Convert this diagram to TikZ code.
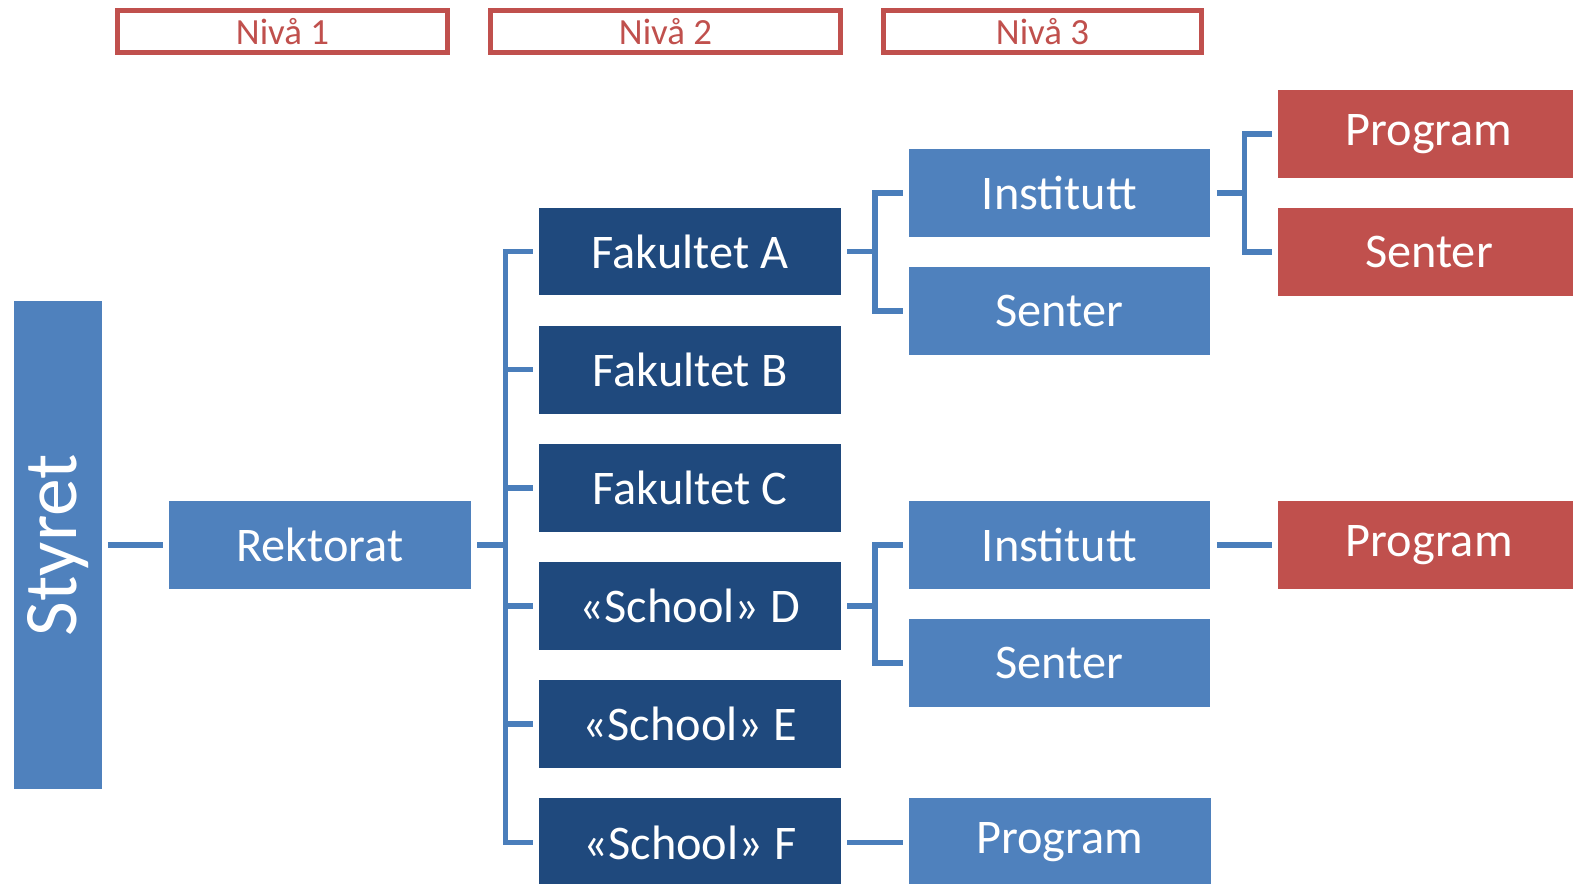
\documentclass[tikz,border=0pt]{standalone}
\usepackage{fontspec}
\setmainfont{Carlito}
\usepackage{tikz}
\usetikzlibrary{positioning, calc}
\definecolor{unitblue}{RGB}{79,129,189}
\definecolor{unitdark}{RGB}{31,73,125}
\definecolor{unitred}{RGB}{192,80,77}
\definecolor{linkblue}{RGB}{74,126,187}

\begin{document}
\begin{tikzpicture}[x=0.02cm, y=-0.02cm, node distance=0.59cm,
unit/.style={rectangle, fill=#1, text=white, inner sep=0pt,
minimum width=6.04cm, minimum height=1.76cm, align=center,
font=\fontsize{27.5}{32}\selectfont},
level/.style={rectangle, draw=unitred, line width=3pt, text=unitred,
minimum height=0.84cm, inner sep=0pt, font=\fontsize{21}{25}\selectfont},
link/.style={draw=linkblue, line width=3.2pt}
]
\useasboundingbox (0,0) rectangle (1573,884);
\clip (0,0) rectangle (1573,884);

% Levels
\node[level, minimum width=6.6cm] (niva1) at (282.5,31.5) {Nivå 1};
\node[level, minimum width=7.0cm] (niva2) at (665.5,31.5) {Nivå 2};
\node[level, minimum width=6.36cm] (niva3) at (1042.5,31.5) {Nivå 3};

% Board and rector
\node[unit=unitblue, minimum width=1.76cm, minimum height=9.76cm] (styret) at (58,545)
{\rotatebox{90}{\fontsize{43}{48}\selectfont Styret}};
\node[unit=unitblue] (rekt) at (320,545) {Rektorat};

% Faculties
\node[unit=unitdark] (fakA) at (690,251.5) {Fakultet A};
\node[unit=unitdark, below=of fakA] (fakB) {Fakultet B};
\node[unit=unitdark, below=of fakB] (fakC) {Fakultet C};
\node[unit=unitdark, below=of fakC] (fakD) {«School» D};
\node[unit=unitdark, below=of fakD] (fakE) {«School» E};
\node[unit=unitdark, below=of fakE] (fakF) {«School» F};

% Level 3
\node[unit=unitblue] (inst1) at (1059.5,193) {Institutt};
\node[unit=unitblue, below=of inst1] (sent1) {Senter};
\node[unit=unitblue] (inst2) at (1059.5,545) {Institutt};
\node[unit=unitblue, below=of inst2] (sent2) {Senter};
\node[unit=unitblue, right=1.34cm of fakF] (prog3) {Program};

% Red units
\node[unit=unitred] (progR1) at (1429,134) {Program};
\node[unit=unitred, below=of progR1] (sentR1) {Senter};
\node[unit=unitred, right=1.34cm of inst2] (progR2) {Program};

% Junctions
\coordinate (bus) at ([xshift=0.68cm]rekt.east);
\coordinate (jA) at ([xshift=0.67cm]fakA.east);
\coordinate (jD) at ([xshift=0.67cm]fakD.east);
\coordinate (jI) at ([xshift=0.67cm]inst1.east);

% Connectors
\draw[link, shorten <=0.11cm, shorten >=0.11cm] (styret) -- (rekt);
\draw[link, shorten <=0.12cm] (rekt.east) -- (bus);
\draw[link, shorten <=0.12cm, shorten >=0.12cm] (fakA.west) -| (bus) |- (fakF.west);
\foreach \n in {fakB, fakC, fakD, fakE}
  \draw[link, shorten >=0.12cm] (bus |- \n.west) -- (\n.west);

\draw[link, shorten <=0.12cm] (fakA.east) -- (jA);
\draw[link, shorten <=0.11cm, shorten >=0.11cm] (inst1.west) -| (jA) |- (sent1.west);

\draw[link, shorten <=0.12cm] (fakD.east) -- (jD);
\draw[link, shorten <=0.11cm, shorten >=0.11cm] (inst2.west) -| (jD) |- (sent2.west);

\draw[link, shorten <=0.12cm] (inst1.east) -- (jI);
\draw[link, shorten <=0.11cm, shorten >=0.11cm] (progR1.west) -| (jI) |- (sentR1.west);

\draw[link, shorten <=0.12cm, shorten >=0.11cm] (inst2) -- (progR2);
\draw[link, shorten <=0.12cm, shorten >=0.11cm] (fakF) -- (prog3);

\end{tikzpicture}
\end{document}
